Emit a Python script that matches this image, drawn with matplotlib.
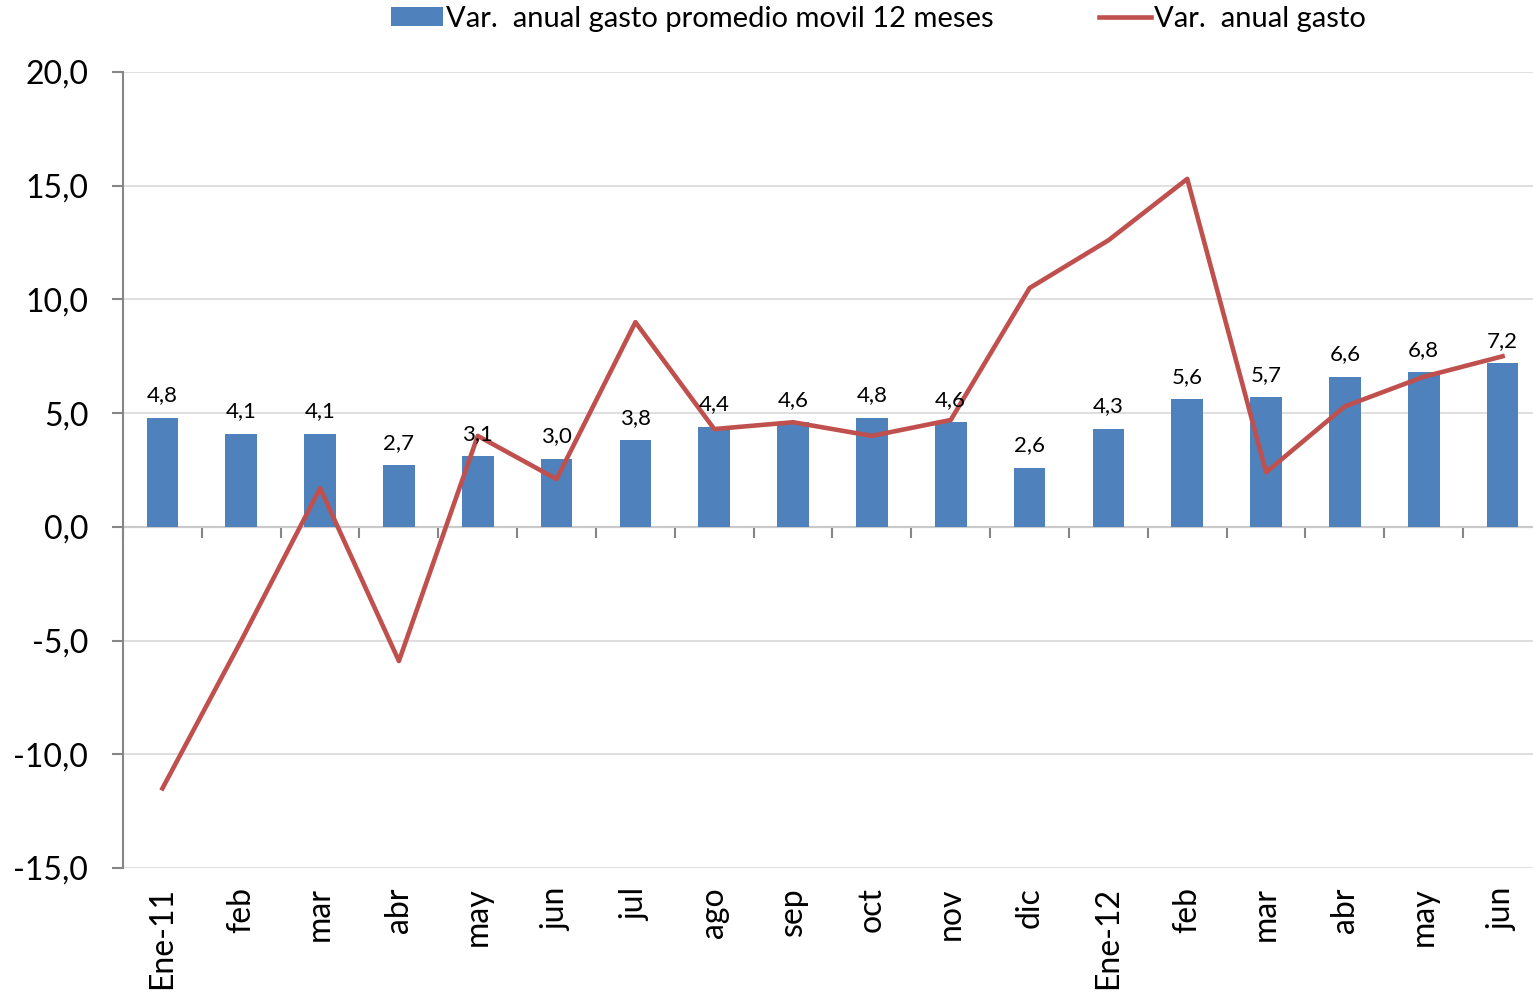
import matplotlib
matplotlib.use("Agg")
import matplotlib.pyplot as plt
from matplotlib.ticker import FuncFormatter

meses = ["Ene-11", "feb", "mar", "abr", "may", "jun", "jul", "ago", "sep",
         "oct", "nov", "dic", "Ene-12", "feb", "mar", "abr", "may", "jun"]
promedio_12m = [4.8, 4.1, 4.1, 2.7, 3.1, 3.0, 3.8, 4.4, 4.6,
                4.8, 4.6, 2.6, 4.3, 5.6, 5.7, 6.6, 6.8, 7.2]
var_anual = [-11.5, -5.0, 1.7, -5.9, 4.0, 2.1, 9.0, 4.3, 4.6,
             4.0, 4.7, 10.5, 12.6, 15.3, 2.4, 5.3, 6.6, 7.5]
yticks = [-15, -10, -5, 0, 5, 10, 15, 20]

plt.rcParams['font.family'] = ['Lato', 'DejaVu Sans']

azul = '#4F81BD'
rojo = '#C0504D'
gris = '#868686'

fig = plt.figure(figsize=(15.33, 10), dpi=100)
ax = fig.add_axes([123 / 1533, 0.132, 1419 / 1533, 0.796])

x = list(range(len(meses)))
barras = ax.bar(x, promedio_12m, width=0.4, color=azul, zorder=2)
linea, = ax.plot(x, var_anual, color=rojo, linewidth=3.3, zorder=3)

for xi, v in zip(x, promedio_12m):
    ax.annotate(f"{v:.1f}".replace('.', ','), (xi, v), xytext=(0, 9),
                textcoords='offset points', ha='center', va='bottom',
                fontsize=16, zorder=4)

ax.set_xlim(-0.5, 17.5)
ax.set_ylim(-15, 20)
ax.set_yticks(yticks)
ax.yaxis.set_major_formatter(FuncFormatter(lambda v, p: f"{v:.1f}".replace('.', ',')))
ax.grid(axis='y', color='#D9D9D9', linewidth=1.2, zorder=0)
ax.set_axisbelow(True)

for s in ['top', 'right', 'bottom']:
    ax.spines[s].set_visible(False)
ax.spines['left'].set_color(gris)
ax.spines['left'].set_linewidth(1.5)
ax.tick_params(axis='y', length=8, width=1.5, color=gris, labelsize=23, pad=17)

ax.set_xticks(x)
ax.set_xticklabels(meses, rotation=90, fontsize=23)
ax.tick_params(axis='x', length=0, pad=14)

# eje en cero con marcas entre categorias
sec = ax.secondary_xaxis(0, transform=ax.transData)
sec.set_xticks([i - 0.5 for i in range(len(meses) + 1)])
sec.set_xticklabels([])
sec.spines['bottom'].set_color(gris)
sec.spines['bottom'].set_linewidth(1.5)
sec.tick_params(axis='x', length=8, width=1.5, color=gris, direction='out')

fig.legend([barras, linea],
           ['Var.  anual gasto promedio movil 12 meses', 'Var.  anual gasto'],
           loc='center', bbox_to_anchor=(0.573, 0.981), ncol=2, frameon=False,
           fontsize=21, handlelength=1.8, handleheight=0.6,
           handletextpad=0.1, columnspacing=3.6)

fig.savefig('out.png', dpi=100)
